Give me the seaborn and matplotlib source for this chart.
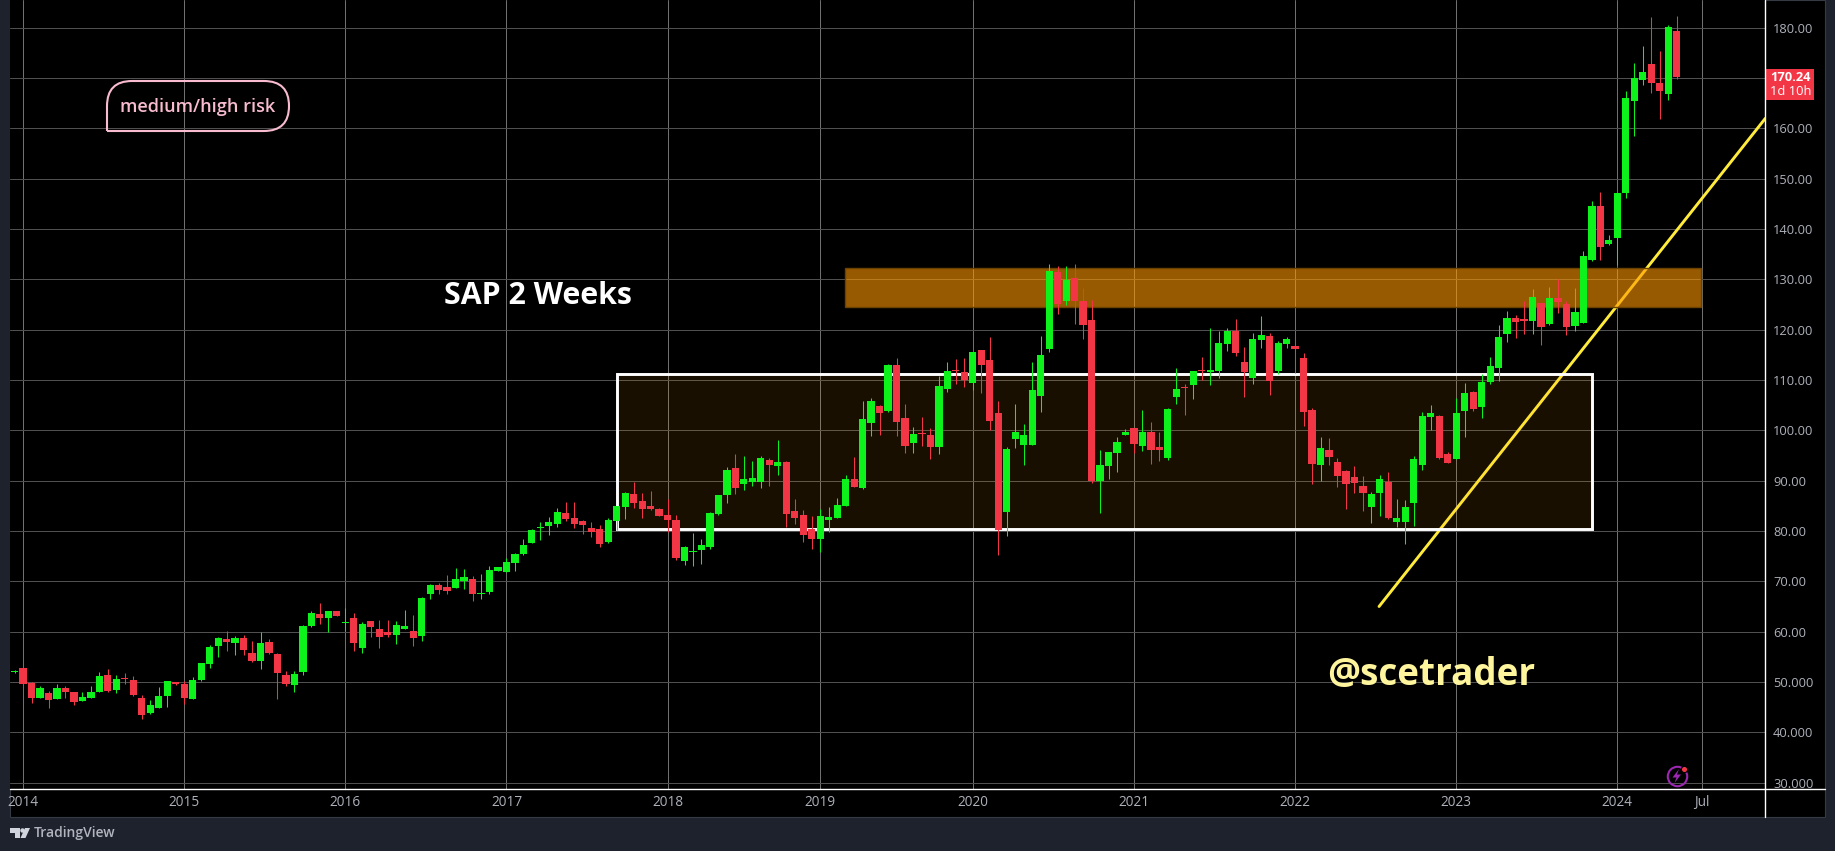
import numpy as np
import pandas as pd
import seaborn as sns
import matplotlib
matplotlib.use('Agg')
import matplotlib.pyplot as plt
from matplotlib.lines import Line2D
from matplotlib.patches import PathPatch, Polygon, Rectangle
from matplotlib.path import Path

# SAP 2 weeks
opens = [51.9,52.8,49.8,46.9,47.8,46.7,48.9,48.1,46.3,46.9,
         48.1,51.3,48.5,50.7,50.3,46.9,43.9,44.9,47.3,49.9,
         49.7,46.7,50.3,53.6,57.2,58.6,57.8,58.8,55.8,54.2,
         58.0,55.6,51.3,49.5,51.9,61.2,63.6,62.8,64.2,61.8,
         62.8,56.8,62.2,60.6,60.0,59.4,60.6,60.2,59.2,67.4,
         69.3,68.9,68.7,70.1,70.5,67.4,67.9,72.1,71.9,73.7,
         75.5,77.7,80.5,80.9,81.3,83.6,82.6,81.9,80.5,80.3,
         77.9,81.9,84.8,87.4,86.0,85.0,84.4,83.2,82.1,74.1,
         75.9,76.3,76.9,83.4,87.2,92.6,89.4,89.8,89.8,94.2,
         93.0,93.8,84.0,83.2,80.3,78.5,82.1,82.6,85.0,90.4,
         88.6,101.5,104.9,103.9,113.0,102.5,97.5,99.5,99.1,96.6,
         108.3,112.0,111.6,109.5,116.0,114.0,103.5,83.8,98.3,97.1,
         97.1,106.9,116.2,131.5,125.7,130.3,125.7,122.0,90.0,93.0,
         95.4,99.1,100.5,96.9,99.7,96.6,94.6,106.7,108.7,109.1,
         112.0,111.5,111.8,117.1,119.8,113.5,110.4,117.9,118.7,111.7,
         117.1,116.7,114.3,104.0,93.1,96.0,93.7,92.0,90.8,88.9,
         84.7,87.5,89.7,81.7,81.7,85.5,93.1,102.6,102.8,95.2,
         94.3,103.8,107.7,104.6,109.7,112.3,119.1,122.3,122.1,121.7,
         125.3,121.1,126.3,125.1,120.7,121.3,133.8,144.6,137.0,138.2,
         147.1,165.4,169.6,172.8,169.0,166.8,179.3]
highs = [52.3,52.9,49.9,49.3,48.3,49.6,49.3,48.1,48.1,49.3,
         51.9,52.5,51.3,51.7,51.1,47.5,46.5,49.1,50.1,49.9,
         50.1,50.9,53.8,57.4,59.0,60.2,59.2,59.4,58.2,60.0,
         58.6,55.8,52.1,52.1,61.4,64.2,65.6,64.2,64.2,64.8,
         63.8,62.0,62.2,62.4,62.4,62.2,64.4,63.4,66.8,69.5,
         69.7,71.3,72.7,72.5,71.1,71.5,73.1,72.9,74.7,75.7,
         78.5,80.3,81.7,82.8,84.6,85.8,85.8,82.1,81.7,81.1,
         82.6,85.0,87.8,89.8,87.6,88.0,84.6,86.4,83.2,77.1,
         79.7,78.5,83.8,87.2,92.8,95.2,95.0,94.0,95.0,94.6,
         98.1,94.0,86.4,84.2,83.0,84.4,84.8,86.6,91.2,94.8,
         105.9,106.5,105.1,113.2,114.4,105.3,100.7,102.7,100.5,110.8,
         113.6,114.2,114.4,115.6,116.0,118.6,105.9,96.7,105.3,101.3,
         113.6,118.8,133.1,132.7,132.7,133.1,128.3,125.9,96.0,95.6,
         98.7,100.3,100.5,104.1,101.7,99.7,104.5,112.4,109.3,111.8,
         114.6,120.4,119.7,120.4,122.1,116.5,119.4,122.7,119.4,117.7,
         118.5,118.5,115.3,104.4,98.6,98.4,94.6,92.2,92.9,91.0,
         87.7,91.2,91.8,86.4,86.1,95.0,103.6,105.0,103.0,95.6,
         106.4,109.5,107.9,111.1,114.5,121.0,123.7,122.9,125.7,128.1,
         125.3,128.5,130.0,125.7,128.3,135.6,145.6,147.3,138.8,147.1,
         167.4,173.0,176.3,182.1,175.3,180.5,182.3]
lows = [51.8,48.8,45.9,46.8,44.9,46.7,46.9,45.5,46.3,46.9,
        48.1,48.1,47.9,49.7,47.3,42.7,43.7,44.9,45.1,49.5,
        45.7,46.7,50.1,52.8,55.0,56.2,55.4,55.4,54.0,52.6,
        55.6,46.7,49.3,48.1,51.3,61.0,61.6,60.0,63.2,60.2,
        56.2,55.8,59.0,56.8,59.0,57.6,60.6,57.2,58.2,66.4,
        67.4,67.5,68.7,68.5,66.0,66.4,67.5,72.1,71.9,72.1,
        75.3,77.7,78.3,79.3,80.7,81.9,80.5,79.5,78.9,76.9,
        77.7,80.2,82.3,84.6,82.6,84.2,83.0,79.9,74.3,73.3,
        73.1,73.5,76.5,83.2,85.6,87.4,88.2,89.0,88.6,89.0,
        91.2,80.7,81.3,77.9,76.5,75.9,79.9,82.6,85.0,88.8,
        88.4,98.9,99.1,103.7,98.9,95.4,95.4,96.9,94.4,95.2,
        107.7,109.3,108.7,108.1,107.5,100.1,75.3,79.1,96.4,93.2,
        97.1,103.7,115.6,123.2,124.9,121.2,118.2,89.6,83.6,90.4,
        91.8,99.1,95.4,95.8,93.4,94.0,94.2,105.3,103.1,106.3,
        110.1,109.1,110.4,115.7,114.8,106.7,109.3,116.3,107.1,111.2,
        116.3,111.4,100.9,89.3,89.9,93.1,88.7,84.4,87.5,83.9,
        81.5,83.0,82.4,80.7,77.4,80.9,92.2,100.0,94.4,93.5,
        94.3,98.6,103.8,102.4,109.3,109.9,117.5,118.3,119.1,119.1,
        117.0,120.9,123.3,118.9,119.7,121.3,133.6,133.8,136.8,132.8,
        146.1,158.5,168.6,167.0,161.8,165.6,169.8]
closes = [52.1,49.7,46.8,48.9,46.5,48.9,48.1,46.1,47.1,48.1,
          51.1,48.3,50.5,50.5,47.5,43.5,45.5,47.3,50.1,49.7,
          46.9,50.3,53.8,57.0,58.8,58.0,58.8,56.4,54.2,57.8,
          55.8,51.7,49.7,51.5,61.2,63.8,62.8,64.2,63.2,62.0,
          57.8,61.6,61.0,59.0,59.4,61.4,61.2,58.8,66.6,69.3,
          68.3,68.1,70.5,70.9,67.4,67.7,72.3,72.9,73.9,75.5,
          77.3,80.1,80.7,81.7,83.8,82.3,81.3,81.1,79.9,77.5,
          82.1,85.0,87.6,85.6,84.4,84.4,83.0,82.1,74.7,76.9,
          76.1,77.3,83.6,87.2,92.2,88.6,90.4,90.6,94.6,93.2,
          93.8,83.4,82.6,79.3,78.5,83.0,82.8,85.2,90.4,88.8,
          102.3,105.9,103.5,113.0,101.7,96.9,99.3,99.3,96.7,108.9,
          111.8,111.8,110.1,115.6,113.0,101.9,80.1,96.2,99.7,99.1,
          108.1,115.0,131.7,125.1,129.9,125.7,121.0,90.0,93.2,95.6,
          97.7,99.7,97.3,99.7,96.0,96.0,104.3,108.3,108.5,111.8,
          111.8,111.9,117.4,119.8,115.4,111.5,118.1,118.9,109.8,117.3,
          118.1,116.1,103.6,93.3,96.4,94.8,91.0,89.3,89.5,87.5,
          87.3,90.4,82.6,82.5,84.7,94.4,102.8,103.4,94.6,93.5,
          103.4,107.5,104.2,109.7,112.7,118.5,122.3,121.5,121.7,126.5,
          120.5,126.3,125.5,120.5,123.5,134.6,144.6,136.4,137.8,147.1,
          166.0,170.0,171.2,169.0,167.4,180.1,170.24]

year_bars = [2, 21, 40, 59, 78, 96, 114, 133, 152, 171, 190, 200]
year_labels = ['2014', '2015', '2016', '2017', '2018', '2019', '2020', '2021', '2022', '2023', '2024', 'Jul']
price_ticks = [180, 170, 160, 150, 140, 130, 120, 110, 100, 90, 80, 70, 60, 50, 40, 30]
price_labels = ['180.00', '', '160.00', '150.00', '140.00', '130.00', '120.00', '110.00', '100.00',
                '90.00', '80.00', '70.00', '60.00', '50.000', '40.000', '30.000']

GREEN = '#0cf21a'
RED = '#f23645'
W, H = 1835, 851


def fx(px):
    return px / W


def fy(py):
    return 1 - py / H


sns.set_theme(style='dark')
plt.rcParams['font.family'] = ['Open Sans', 'DejaVu Sans']

fig = plt.figure(figsize=(W / 100, H / 100), dpi=100, facecolor='#1e222d')
fig.add_artist(Rectangle((fx(10), fy(816.6)), fx(1815), 816.6 / H, transform=fig.transFigure,
                         facecolor='black', edgecolor='#363a45', lw=0.8, zorder=-5))
ax = fig.add_axes([fx(10), fy(788.8), fx(1755.4), 788.8 / H])
ax.set_facecolor('black')

df = pd.DataFrame({'bar': np.arange(1, len(opens) + 1), 'open': opens, 'high': highs, 'low': lows, 'close': closes})
df['bottom'] = df[['open', 'close']].min(axis=1)
df['body'] = (df['close'] - df['open']).abs()
df['up'] = df['close'] >= df['open']

# wicks then bodies
for up, color in [(True, GREEN), (False, RED)]:
    part = df[df['up'] == up]
    ax.vlines(part['bar'], part['low'], part['high'], color=color, lw=0.75, zorder=4)
    sns.barplot(data=part, x='bar', y='body', bottom=part['bottom'].values, native_scale=True, color=color,
                saturation=1, width=0.85, errorbar=None, linewidth=0, ax=ax, zorder=5)

# drawings
ax.plot([161.9, 207.46], [65, 162], color='#ffeb3b', lw=2.1, solid_capstyle='round', zorder=2)
ax.add_patch(Rectangle((72, 80.3), 115, 30.8, facecolor=(1, 0.596, 0, 0.1), edgecolor='none', zorder=3))
ax.add_patch(Rectangle((72, 80.3), 115, 30.8, facecolor='none', edgecolor='white', lw=2.1, zorder=3.5))
ax.add_patch(Rectangle((98.9, 124.5), 101, 7.8, facecolor=(1, 0.596, 0, 0.6), edgecolor='#6b4200', lw=1, zorder=3))

ax.set_xlim(0.458, 207.46)
ax.set_ylim(28.78, 185.5)
ax.set_xticks(year_bars)
ax.set_xticklabels(year_labels)
ax.set_yticks(price_ticks)
ax.set_yticklabels(price_labels)
ax.set_xlabel('')
ax.set_ylabel('')
ax.yaxis.tick_right()
ax.tick_params(axis='x', length=0, pad=4.5, labelsize=9.8, labelcolor='#aeb1ba')
ax.tick_params(axis='y', length=0, pad=5.5, labelsize=9.3, labelcolor='#aeb1ba')
ax.set_axisbelow(True)
ax.grid(axis='x', color='#707070', lw=0.72)
ax.grid(axis='y', color='#505050', lw=0.72)
sns.despine(ax=ax, left=True, bottom=True, right=True, top=True)

# pane separators
fig.add_artist(Line2D([fx(10), fx(1825)], [fy(788.8)] * 2, color='white', lw=1, transform=fig.transFigure))
fig.add_artist(Line2D([fx(1765.4)] * 2, [fy(0), fy(816.6)], color='white', lw=1, transform=fig.transFigure))

# last price tag
fig.add_artist(Rectangle((fx(1765), fy(100)), fx(49), 31 / H, transform=fig.transFigure, facecolor=RED, edgecolor='none'))
fig.text(fx(1791), fy(77.7), '170.24', color='white', fontsize=9.3, fontweight='bold', ha='center', va='center')
fig.text(fx(1791), fy(91.7), '1d 10h', color='white', fontsize=9.3, ha='center', va='center')

# texts on the chart
fig.text(fx(537.5), fy(296), 'SAP 2 Weeks', color='white', fontsize=21.8, fontweight='bold', ha='center', va='center')
fig.text(fx(1431), fy(675), '@scetrader', color='#fff59d', fontsize=26.6, fontweight='bold', ha='center', va='center')
fig.text(fx(198), fy(107), 'medium/high risk', color='#f8bbd0', fontsize=13.1, fontweight='semibold', ha='center', va='center')

# risk callout, square corner bottom left
L, R, T, B, r = 107, 289, 81, 131, 25
pts = [(L, B), (L, T + r), (L, T), (L + r, T), (R - r, T), (R, T), (R, T + r), (R, B - r), (R, B), (R - r, B), (L, B)]
codes = [Path.MOVETO, Path.LINETO, Path.CURVE3, Path.CURVE3, Path.LINETO, Path.CURVE3, Path.CURVE3,
         Path.LINETO, Path.CURVE3, Path.CURVE3, Path.LINETO]
fig.add_artist(PathPatch(Path([(fx(a), fy(b)) for a, b in pts], codes), transform=fig.transFigure,
                         facecolor='none', edgecolor='#f8bbd0', lw=1.5))

# lightning badge
fig.add_artist(Line2D([fx(1676.7)], [fy(776)], marker='o', ms=14, mfc='none', mec='#9c27b0', mew=1.5,
                      transform=fig.transFigure))
bolt = [(1679, 769), (1672.5, 777.5), (1676.5, 777.5), (1674.5, 783), (1681, 774.5), (1677, 774.5)]
fig.add_artist(Polygon([(fx(a), fy(b)) for a, b in bolt], transform=fig.transFigure, facecolor='#9c27b0', edgecolor='none'))
fig.add_artist(Line2D([fx(1683.5)], [fy(769)], marker='o', ms=4.5, mfc=RED, mec='black', mew=0.8, transform=fig.transFigure))

# footer logo
logo_t = [(10, 828), (19.5, 828), (19.5, 838), (14.5, 838), (14.5, 832.5), (10, 832.5)]
logo_v = [(25, 828), (30, 828), (25.5, 838), (20.5, 838)]
for shape in (logo_t, logo_v):
    fig.add_artist(Polygon([(fx(a), fy(b)) for a, b in shape], transform=fig.transFigure, facecolor='#d1d4dc', edgecolor='none'))
fig.add_artist(Line2D([fx(22)], [fy(830.3)], marker='o', ms=3.2, mfc='#d1d4dc', mec='none', transform=fig.transFigure))
fig.text(fx(33.5), fy(833), 'TradingView', color='#b2b5be', fontsize=10, fontweight='semibold', ha='left', va='center')

fig.savefig('out.png', dpi=100, facecolor=fig.get_facecolor())
